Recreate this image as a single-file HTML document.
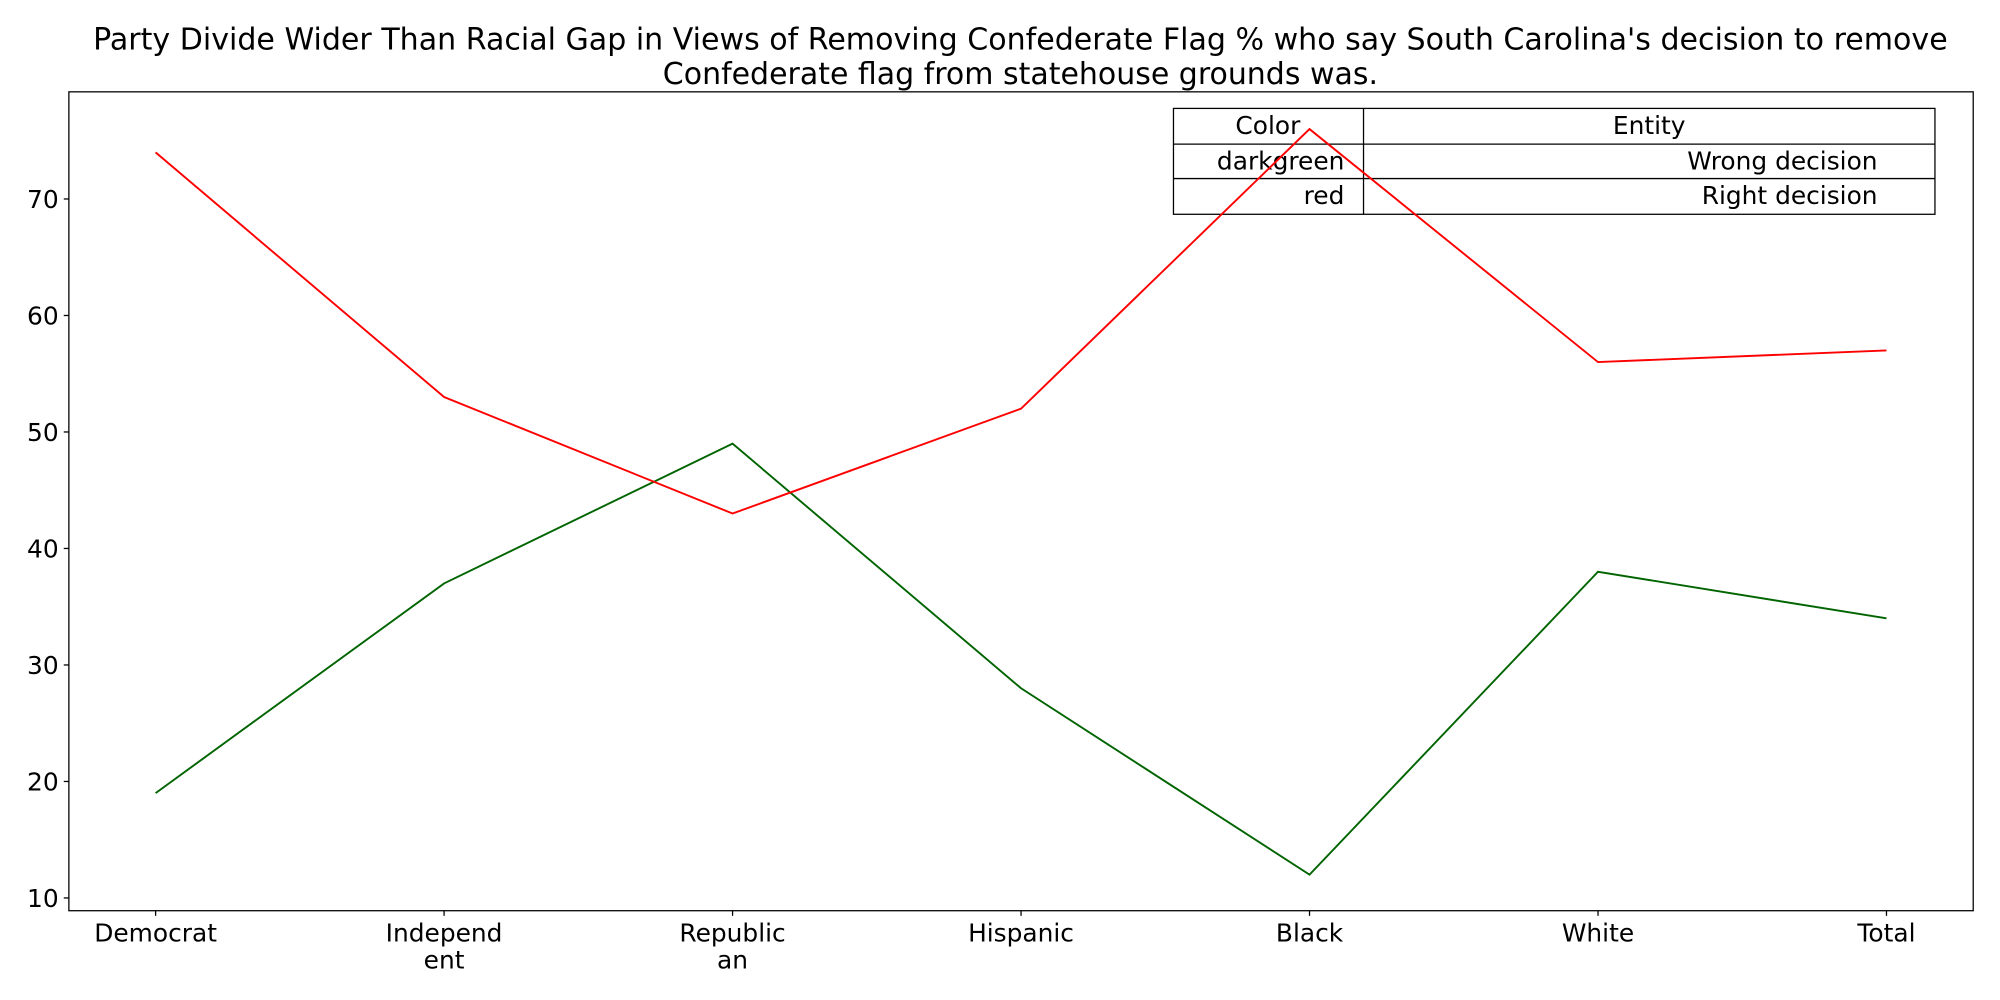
<!DOCTYPE html>
<html><head><meta charset="utf-8"><style>body{margin:0;background:#fff}svg{display:block;font-family:"DejaVu Sans","Liberation Sans",sans-serif}</style></head>
<body>
<svg id="c" width="2000" height="1000" viewBox="0 0 1568 784" xmlns="http://www.w3.org/2000/svg">
<rect width="1568" height="784" fill="#fff"/>
<text x="800" y="39" font-size="23.5" text-anchor="middle" textLength="1454" lengthAdjust="spacingAndGlyphs">Party Divide Wider Than Racial Gap in Views of Removing Confederate Flag % who say South Carolina's decision to remove</text>
<text x="800" y="66" font-size="23.5" text-anchor="middle">Confederate flag from statehouse grounds was.</text>
<rect x="54" y="72" width="1493" height="642" fill="none" stroke="#000" stroke-width="1"/>
<g id="ticks"></g>
<g font-size="19.5">
<rect x="920" y="85" width="597" height="83" fill="none" stroke="#000"/>
<line x1="920" y1="113" x2="1517" y2="113" stroke="#000"/>
<line x1="920" y1="140" x2="1517" y2="140" stroke="#000"/>
<line x1="1069" y1="85" x2="1069" y2="168" stroke="#000"/>
<text x="994" y="105" text-anchor="middle">Color</text>
<text x="1293" y="105" text-anchor="middle">Entity</text>
<text x="1054" y="133" text-anchor="end">darkgreen</text>
<text x="1472" y="133" text-anchor="end">Wrong decision</text>
<text x="1054" y="160" text-anchor="end">red</text>
<text x="1472" y="160" text-anchor="end">Right decision</text>
</g>
<g id="lines"></g>
</svg>
<script>
const categories=[["Democrat"],["Independ","ent"],["Republic","an"],["Hispanic"],["Black"],["White"],["Total"]];
const wrongDecision=[19,37,49,28,12,38,34];
const rightDecision=[74,53,43,52,76,56,57];
const yTicks=[10,20,30,40,50,60,70];
const NS="http://www.w3.org/2000/svg";
function x(i){return 122+i*(1479-122)/(categories.length-1);}
function y(v){return 704-(v-10)*(704-156)/60;}
const tg=document.getElementById('ticks');
yTicks.forEach(t=>{
  const l=document.createElementNS(NS,'line');
  
  
  l.setAttribute('x1',50);l.setAttribute('x2',54);l.setAttribute('y1',y(t));l.setAttribute('y2',y(t));l.setAttribute('stroke','#000');
  tg.appendChild(l);
  const tx=document.createElementNS(NS,'text');
  
  
  tx.setAttribute('x',46);tx.setAttribute('y',y(t)+7);tx.setAttribute('font-size','19.5');tx.setAttribute('text-anchor','end');
  tx.textContent=t;tg.appendChild(tx);
});
categories.forEach((c,i)=>{
  const l=document.createElementNS(NS,'line');
  
  
  l.setAttribute('x1',x(i));l.setAttribute('x2',x(i));l.setAttribute('y1',714);l.setAttribute('y2',718);l.setAttribute('stroke','#000');
  tg.appendChild(l);
  c.forEach((s,k)=>{
    const tx=document.createElementNS(NS,'text');
    
    
    tx.setAttribute('x',x(i));tx.setAttribute('y',738+k*21.5);tx.setAttribute('font-size','19.5');tx.setAttribute('text-anchor','middle');
    tx.textContent=s;tg.appendChild(tx);
  });
});
const lg=document.getElementById('lines');
function line(vals,color,name){
  const p=document.createElementNS(NS,'polyline');
  
  
  p.setAttribute('points',vals.map((v,i)=>x(i)+','+y(v)).join(' '));
  p.setAttribute('fill','none');p.setAttribute('stroke',color);p.setAttribute('stroke-width','1.5');
  lg.appendChild(p);
}
line(wrongDecision,'darkgreen','wrong-decision-line');
line(rightDecision,'red','right-decision-line');
</script>
</body></html>
